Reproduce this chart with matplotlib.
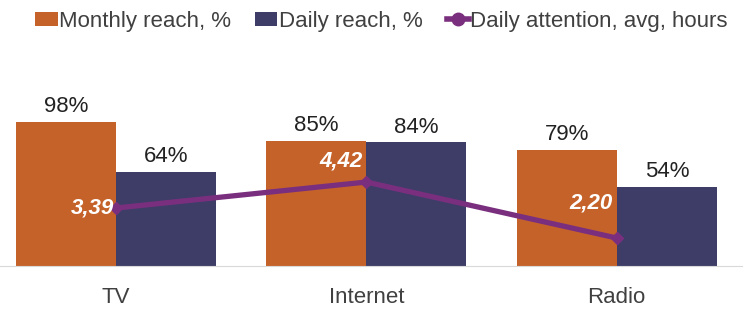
import matplotlib.pyplot as plt
from matplotlib.lines import Line2D
import numpy as np

plt.rcParams['font.family'] = ['Liberation Sans', 'DejaVu Sans']

categories = ['TV', 'Internet', 'Radio']
monthly_reach = [98, 85, 79]
daily_reach = [64, 84, 54]
daily_attention = [3.39, 4.42, 2.20]
attention_labels = ['3,39', '4,42', '2,20']

orange = '#C5622A'
navy = '#3D3D68'
purple = '#7A2F7E'

fig = plt.figure(figsize=(7.54, 3.09), dpi=100)
ax = fig.add_axes([0.0, 0.139, 0.984, 0.667])
x = np.arange(len(categories))
w = 0.4

b1 = ax.bar(x - w / 2, monthly_reach, w, color=orange, label='Monthly reach, %', zorder=2)
b2 = ax.bar(x + w / 2, daily_reach, w, color=navy, label='Daily reach, %', zorder=2)
for bars in (b1, b2):
    for r in bars:
        ax.text(r.get_x() + r.get_width() / 2, r.get_height() + 3, f'{int(r.get_height())}%',
                ha='center', va='bottom', fontsize=16, color='#222222')

ax.set_xlim(-0.463, 2.5)
ax.set_ylim(0, 140)
ax.set_yticks([])
for s in ['top', 'right', 'left']:
    ax.spines[s].set_visible(False)
ax.spines['bottom'].set_color('#d9d9d9')
ax.tick_params(axis='x', length=0, pad=15, labelsize=16, labelcolor='#404040')
ax.set_xticks(x)
ax.set_xticklabels(categories)

ax2 = ax.twinx()
ax2.set_ylim(1.09, 9.26)
ax2.axis('off')
ln, = ax2.plot(x, daily_attention, color=purple, lw=3.8, marker='D', ms=6,
               label='Daily attention, avg, hours', zorder=3)

# offsets (points) for the value labels
offsets = [(-1, 0), (-3, 15), (-3, 25)]
for xi, v, t, off in zip(x, daily_attention, attention_labels, offsets):
    ax2.annotate(t, (xi, v), xytext=off, textcoords='offset points', ha='right', va='center',
                 fontsize=16, color='white', fontweight='bold', fontstyle='italic', zorder=4)

ln_handle = Line2D([], [], color=purple, lw=4, marker='o', ms=9)
handles = [b1, b2, ln_handle]
labels = ['Monthly reach, %', 'Daily reach, %', 'Daily attention, avg, hours']
fig.legend(handles, labels, loc='upper center', ncol=3,
           bbox_to_anchor=(0.506, 1.03), frameon=False, fontsize=16, handlelength=1.0,
           handleheight=0.55, handletextpad=0.05, columnspacing=1.1, labelcolor='#404040')

fig.savefig('out.png', dpi=100)
